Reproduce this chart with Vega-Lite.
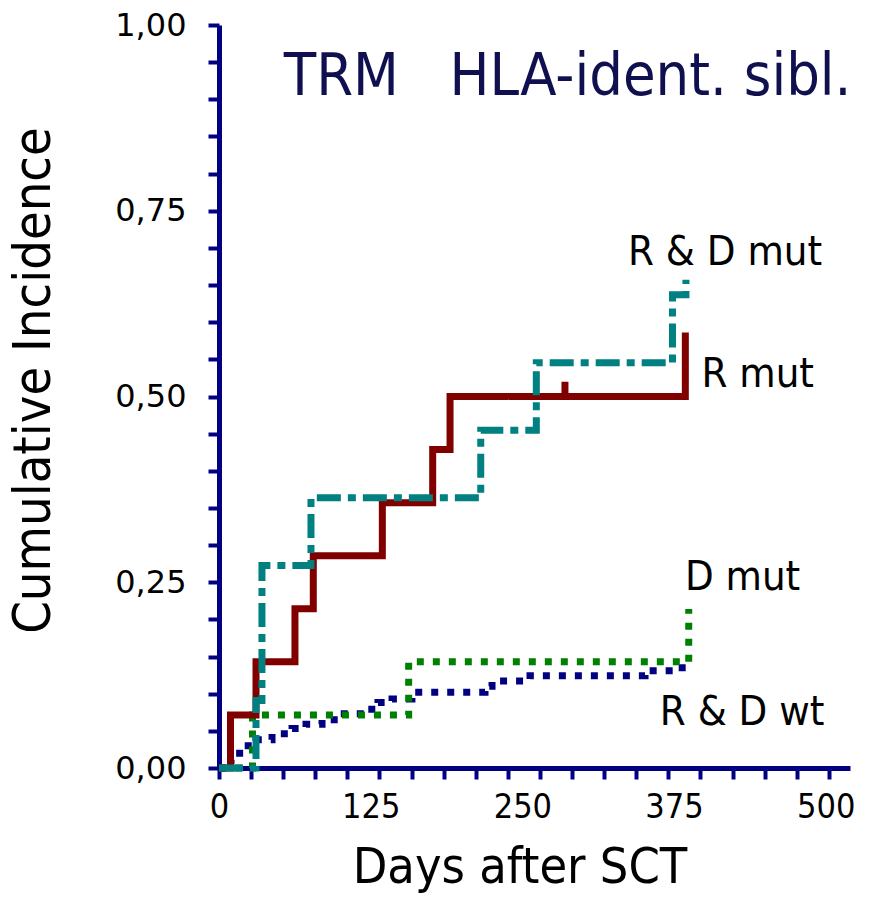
{
  "$schema": "https://vega.github.io/schema/vega-lite/v6.json",
  "width": 631,
  "height": 743,
  "autosize": "none",
  "padding": {"left": 219, "top": 25, "right": 19, "bottom": 134},
  "background": "white",
  "config": {"view": {"stroke": null}, "font": "DejaVu Sans Condensed"},
  "layer": [
    {
      "data": {
        "values": [
          {"series": "R & D wt", "day": 0, "ci": 0},
          {"series": "R & D wt", "day": 9.9, "ci": 0.011},
          {"series": "R & D wt", "day": 14.0, "ci": 0.020},
          {"series": "R & D wt", "day": 20.6, "ci": 0.030},
          {"series": "R & D wt", "day": 30.5, "ci": 0.038},
          {"series": "R & D wt", "day": 43.7, "ci": 0.046},
          {"series": "R & D wt", "day": 60.2, "ci": 0.053},
          {"series": "R & D wt", "day": 71.7, "ci": 0.059},
          {"series": "R & D wt", "day": 84.9, "ci": 0.065},
          {"series": "R & D wt", "day": 99.7, "ci": 0.073},
          {"series": "R & D wt", "day": 120.3, "ci": 0.079},
          {"series": "R & D wt", "day": 131.0, "ci": 0.088},
          {"series": "R & D wt", "day": 142.6, "ci": 0.093},
          {"series": "R & D wt", "day": 159.0, "ci": 0.102},
          {"series": "R & D wt", "day": 219.2, "ci": 0.110},
          {"series": "R & D wt", "day": 225.0, "ci": 0.117},
          {"series": "R & D wt", "day": 256.3, "ci": 0.124},
          {"series": "R & D wt", "day": 351.1, "ci": 0.131},
          {"series": "R & D wt", "day": 375.8, "ci": 0.135},
          {"series": "R & D wt", "day": 384.8, "ci": 0.145},
          {"series": "D mut", "day": 0, "ci": 0},
          {"series": "D mut", "day": 27.6, "ci": 0.0714},
          {"series": "D mut", "day": 156.3, "ci": 0.1429},
          {"series": "D mut", "day": 387.1, "ci": 0.214},
          {"series": "R mut", "day": 0, "ci": 0},
          {"series": "R mut", "day": 9.5, "ci": 0.0714},
          {"series": "R mut", "day": 30.5, "ci": 0.1429},
          {"series": "R mut", "day": 62.6, "ci": 0.2143},
          {"series": "R mut", "day": 77.7, "ci": 0.2857},
          {"series": "R mut", "day": 134.6, "ci": 0.3571},
          {"series": "R mut", "day": 176.1, "ci": 0.4286},
          {"series": "R mut", "day": 190.4, "ci": 0.5},
          {"series": "R mut", "day": 285.1, "ci": 0.5},
          {"series": "R mut", "day": 285.1, "ci": 0.52},
          {"series": "R mut", "day": 285.1, "ci": 0.5},
          {"series": "R mut", "day": 384.3, "ci": 0.586},
          {"series": "R & D mut", "day": 0, "ci": 0},
          {"series": "R & D mut", "day": 30.5, "ci": 0.0909},
          {"series": "R & D mut", "day": 35.4, "ci": 0.2727},
          {"series": "R & D mut", "day": 75.8, "ci": 0.3636},
          {"series": "R & D mut", "day": 215.7, "ci": 0.4545},
          {"series": "R & D mut", "day": 261.5, "ci": 0.5455},
          {"series": "R & D mut", "day": 373.7, "ci": 0.637},
          {"series": "R & D mut", "day": 384.8, "ci": 0.657}
        ]
      },
      "mark": {"type": "line", "interpolate": "step-after", "strokeWidth": 7, "strokeCap": "butt", "strokeJoin": "miter"},
      "encoding": {
        "x": {
          "field": "day", "type": "quantitative",
          "scale": {"domain": [0, 520], "nice": false, "zero": false},
          "axis": {
            "orient": "bottom",
            "values": [0, 125, 250, 375, 500],
            "ticks": false,
            "domain": true,
            "domainColor": "#000080",
            "domainWidth": 5,
            "grid": false,
            "labelFont": "DejaVu Sans Condensed",
            "labelFontSize": 34,
            "labelColor": "black",
            "labelPadding": 22,
            "labelFlush": false,
            "labelOverlap": false,
            "title": "Days after SCT",
            "titleFont": "DejaVu Sans Condensed",
            "titleFontSize": 50,
            "titleFontWeight": "normal",
            "titleColor": "black",
            "titleX": 300.5,
            "titleY": 114,
            "titleAlign": "center",
            "titleBaseline": "alphabetic"
          }
        },
        "y": {
          "field": "ci", "type": "quantitative",
          "scale": {"domain": [0, 1], "nice": false},
          "axis": {
            "values": [0, 0.05, 0.1, 0.15, 0.2, 0.25, 0.3, 0.35, 0.4, 0.45, 0.5, 0.55, 0.6, 0.65, 0.7, 0.75, 0.8, 0.85, 0.9, 0.95, 1],
            "labelExpr": "abs(datum.value*4 - round(datum.value*4)) < 0.001 ? replace(format(datum.value, '.2f'), '.', ',') : ''",
            "domainColor": "#000080",
            "domainWidth": 5,
            "tickColor": "#000080",
            "tickWidth": 4,
            "tickSize": 11,
            "grid": false,
            "labelFont": "DejaVu Sans",
            "labelFontSize": 32,
            "labelColor": "black",
            "labelPadding": 22,
            "labelOverlap": false,
            "labelFlush": false,
            "title": "Cumulative Incidence",
            "titleFont": "DejaVu Sans Condensed",
            "titleFontSize": 52,
            "titleFontWeight": "normal",
            "titleColor": "black",
            "titleAngle": -90,
            "titleX": -170,
            "titleY": 355,
            "titleAlign": "center",
            "titleBaseline": "alphabetic"
          }
        },
        "color": {
          "field": "series", "type": "nominal",
          "scale": {"domain": ["R & D wt", "D mut", "R mut", "R & D mut"], "range": ["#000080", "#008000", "#800000", "#008080"]},
          "legend": null
        },
        "strokeDash": {
          "field": "series", "type": "nominal",
          "scale": {"domain": ["R & D wt", "D mut", "R mut", "R & D mut"], "range": [[7, 9], [7, 9], [1, 0], [24, 7, 8, 7]]},
          "legend": null
        },
        "order": {"value": null}
      }
    },
    {
      "data": {
        "values": [
          {"label": "R & D mut", "day": 337.1, "ci": 0.677},
          {"label": "R mut", "day": 397.6, "ci": 0.513},
          {"label": "D mut", "day": 384.0, "ci": 0.2397},
          {"label": "R & D wt", "day": 363.3, "ci": 0.0584}
        ]
      },
      "mark": {"type": "text", "align": "left", "baseline": "alphabetic", "font": "DejaVu Sans Condensed", "fontSize": 41.5, "color": "black"},
      "encoding": {
        "x": {
          "field": "day", "type": "quantitative",
          "scale": {"domain": [0, 520], "nice": false, "zero": false},
          "axis": {
            "orient": "bottom",
            "values": [0, 26.45, 52.9, 79.35, 105.8, 132.25, 158.7, 185.15, 211.6, 238.05, 264.5, 290.95, 317.4, 343.85, 370.3, 396.75, 423.2, 449.65, 476.1, 502.55],
            "labels": false,
            "domain": false,
            "ticks": true,
            "tickColor": "#000080",
            "tickWidth": 4,
            "tickSize": 11,
            "grid": false,
            "title": null
          }
        },
        "y": {"field": "ci", "type": "quantitative", "scale": {"domain": [0, 1], "nice": false}, "axis": null},
        "text": {"field": "label", "type": "nominal"}
      }
    },
    {
      "data": {
        "values": [
          {"label": "TRM\u00a0\u00a0\u00a0HLA-ident. sibl.", "day": 521.2, "ci": 0.906}
        ]
      },
      "mark": {"type": "text", "align": "right", "baseline": "alphabetic", "font": "DejaVu Sans Condensed", "fontSize": 59, "color": "#101050"},
      "encoding": {
        "x": {"field": "day", "type": "quantitative", "scale": {"domain": [0, 520], "nice": false, "zero": false}, "axis": null},
        "y": {"field": "ci", "type": "quantitative", "scale": {"domain": [0, 1], "nice": false}, "axis": null},
        "text": {"field": "label", "type": "nominal"}
      }
    }
  ],
  "resolve": {"axis": {"x": "independent", "y": "independent"}}
}
